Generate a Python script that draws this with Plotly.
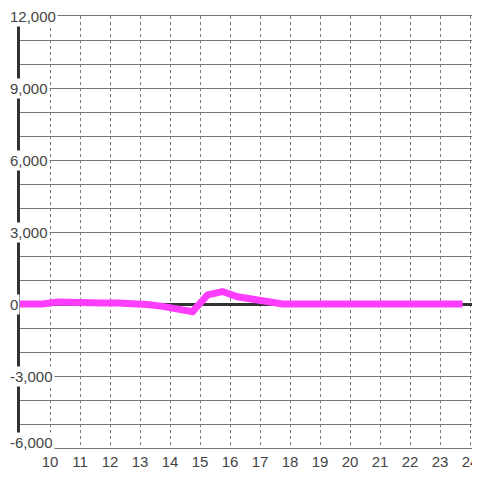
import plotly.graph_objects as go

# hour of day vs value
hours = [9.0, 9.75, 10.25, 10.75, 11.25, 11.75, 12.25, 12.75, 13.25, 13.75,
         14.25, 14.75, 15.25, 15.75, 16.25, 16.75, 17.25, 17.75, 18.25, 18.75,
         19.25, 19.75, 20.25, 20.75, 21.25, 21.75, 22.25, 22.75, 23.25, 23.75]
values = [0, 0, 80, 50, 40, 40, 40, 40, -20, -100,
          -220, -320, 380, 520, 300, 200, 30, 0, 0, 0,
          0, 0, 0, 0, 0, 0, 0, 0, 0, 0]

x_ticks = list(range(10, 25))
y_grid = list(range(-6000, 12001, 1000))
y_labels = [-6000, -3000, 0, 3000, 6000, 9000, 12000]

LINE = "#ff3dff"
GRID = "#777777"
AXIS = "#333333"
TEXT = "#444444"
FONT = "Liberation Sans, Arial, sans-serif"

fig = go.Figure()

fig.add_trace(
    go.Scatter(
        x=hours,
        y=values,
        mode="lines",
        line=dict(color=LINE, width=7),
        showlegend=False,
        hoverinfo="skip",
    )
)

# y labels sit on top of the plot with a white box behind them
for v in y_labels:
    fig.add_annotation(
        x=hours[0],
        xref="x",
        y=v,
        yref="y",
        text=f"{v:,}",
        xanchor="left",
        yanchor="middle",
        xshift=-12,
        yshift=6 if v == y_labels[0] else 0,
        showarrow=False,
        bgcolor="white",
        borderpad=1,
        font=dict(family=FONT, size=15, color=TEXT),
    )

# the page body adds an 8px offset, so the figure is smaller than the window
fig.update_layout(
    width=472,
    height=464,
    margin=dict(l=12, r=0, t=8, b=24),
    paper_bgcolor="white",
    plot_bgcolor="white",
    font=dict(family=FONT, size=15, color=TEXT),
)
fig.update_xaxes(
    range=[9.0, 24.33],
    tickvals=x_ticks,
    ticktext=[str(h) for h in x_ticks],
    showgrid=True,
    gridcolor=GRID,
    gridwidth=1,
    griddash="dot",
    zeroline=False,
    showline=True,
    linecolor=GRID,
    linewidth=1,
    mirror=True,
    ticks="",
    automargin=False,
    tickfont=dict(family=FONT, size=15, color=TEXT),
)
fig.update_yaxes(
    range=[-6000, 12000],
    tickvals=y_grid,
    showticklabels=False,
    showgrid=True,
    gridcolor=GRID,
    gridwidth=1,
    zeroline=True,
    zerolinecolor=AXIS,
    zerolinewidth=3,
    showline=True,
    linecolor=AXIS,
    linewidth=3,
    ticks="",
    automargin=False,
)

fig.write_html("out.html")
